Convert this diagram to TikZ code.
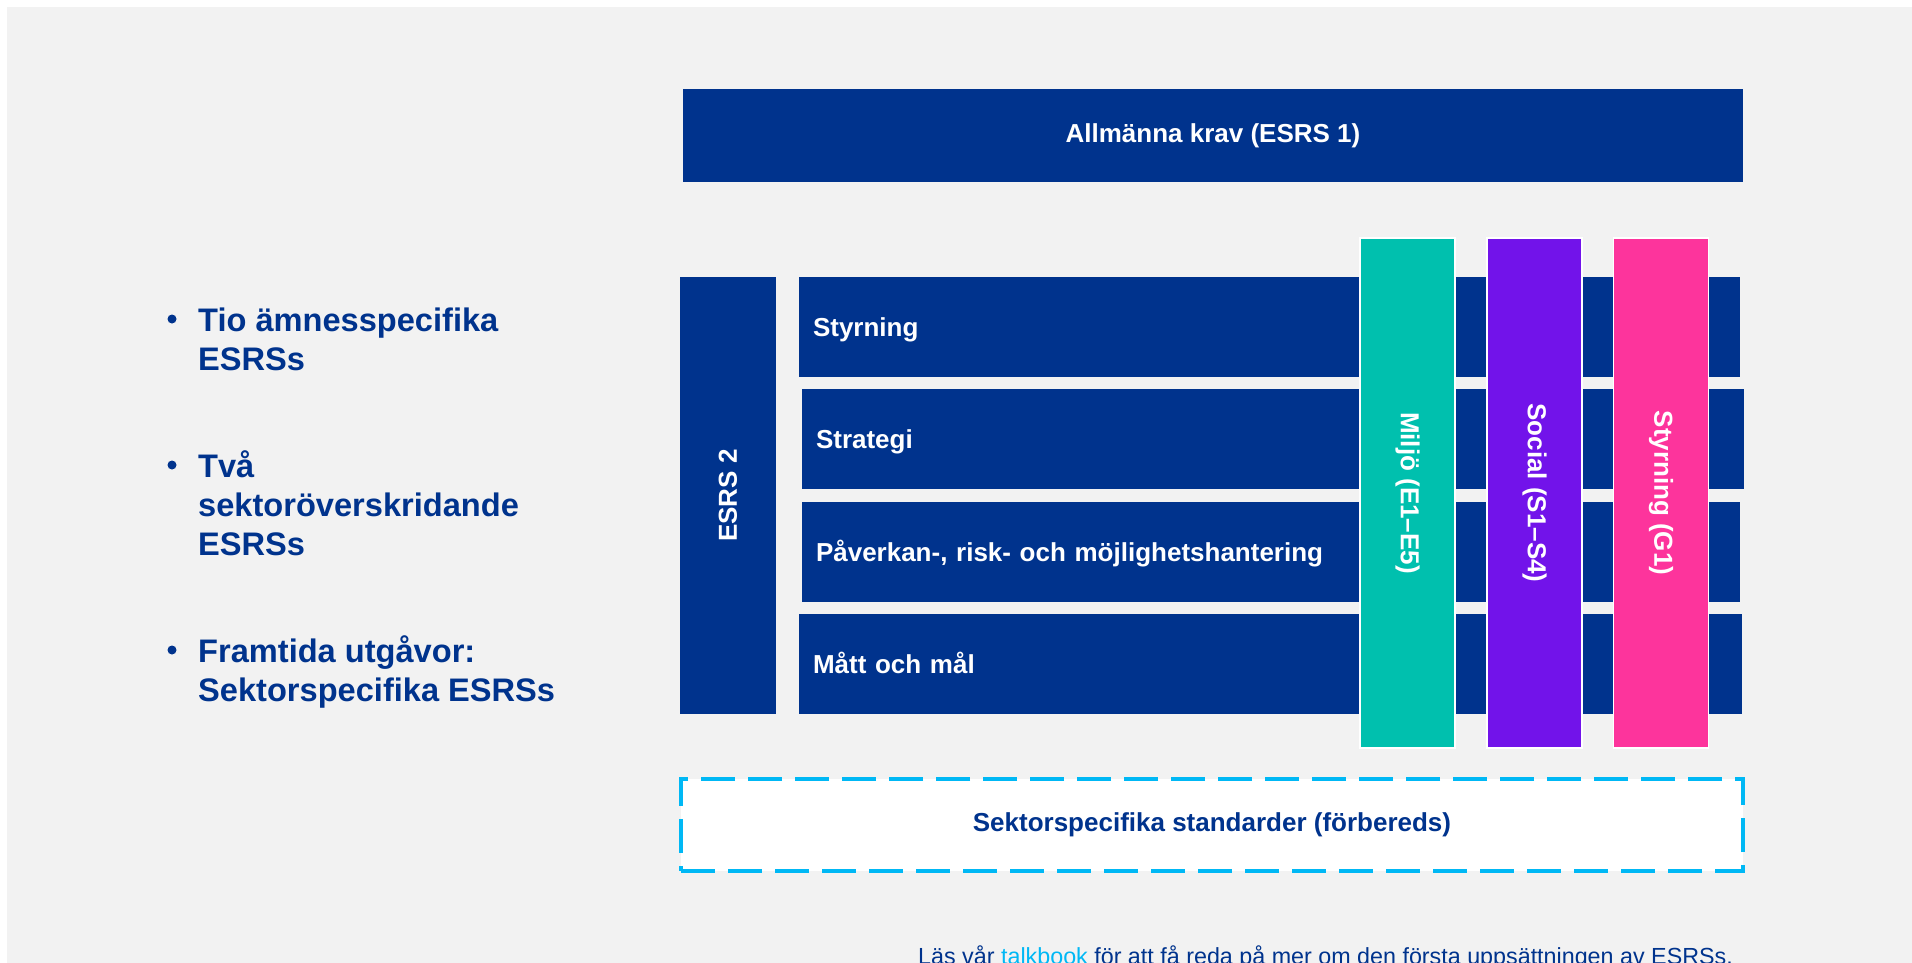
\documentclass[tikz,border=0pt]{standalone}
\usepackage{fontspec}
\setmainfont{Liberation Sans}
\usetikzlibrary{positioning}

\definecolor{esrsblue}{RGB}{0,51,141}
\definecolor{esrsteal}{RGB}{0,192,174}
\definecolor{esrspurple}{RGB}{114,19,234}
\definecolor{esrspink}{RGB}{253,52,156}
\definecolor{esrscyan}{RGB}{0,184,245}
\definecolor{esrsgray}{RGB}{242,242,242}

\begin{document}
\begin{tikzpicture}[x=1pt,y=-1pt,
  box/.style={fill=esrsblue, text=white, inner sep=0pt, outer sep=0pt,
    font=\fontsize{26}{31}\selectfont\bfseries},
  rowbox/.style={box, anchor=north west, minimum height=100pt, inner xsep=14pt, align=left,
    text height=19.4pt, text depth=0pt},
  colbox/.style={box, rotate=-90, draw=white, line width=1.5pt,
    minimum width=510pt, minimum height=95pt},
  bullettext/.style={text=esrsblue, inner sep=0pt, anchor=base west, align=left,
    font=\fontsize{32.6}{39}\selectfont\bfseries},
  dot/.style={circle, fill=esrsblue, inner sep=0pt, minimum size=9pt}]

  \useasboundingbox (0,0) rectangle (1912,963);
  \fill[white] (0,0) rectangle (1912,963);
  \fill[esrsgray] (7,7) rectangle (1912,963);

  % left list (base = last line)
  \node[bullettext] (t1) at (198,370) {Tio ämnesspecifika\\ESRSs};
  \node[bullettext] (t2) at (198,555) {Två\\sektoröverskridande\\ESRSs};
  \node[bullettext] (t3) at (198,701) {Framtida utgåvor:\\Sektorspecifika ESRSs};
  \node[dot] (d1) at (172,319) {};
  \node[dot] (d2) at (172,465) {};
  \node[dot] (d3) at (172,650) {};

  % general requirements
  \node[box, anchor=north west, minimum width=1060pt, minimum height=93pt] (esrs1) at (683,89) {Allmänna krav (ESRS 1)};
  \node[box, rotate=90, minimum width=437pt, minimum height=96pt] (esrs2) at (728,495.5) {ESRS 2};

  % rows
  \node[rowbox, text width=913pt] (gov) at (799,277) {Styrning};
  \node[rowbox, text width=914pt] (strat) at (802,389) {Strategi};
  \node[rowbox, text width=910pt] (iro) at (802,502) {Påverkan-, risk- och möjlighetshantering};
  \node[rowbox, text width=915pt] (mt) at (799,614) {Mått och mål};

  % topical columns
  \node[colbox, fill=esrsteal] (env) at (1407.5,493) {Miljö (E1–E5)};
  \node[colbox, fill=esrspurple] (soc) at (1534.5,493) {Social (S1–S4)};
  \node[colbox, fill=esrspink] (govc) at (1661,493) {Styrning (G1)};

  % sector standards
  \node[draw=esrscyan, fill=white, line width=4pt, dash pattern=on 34pt off 13pt,
    anchor=north west, inner sep=0pt, outer sep=0pt, minimum width=1062pt, minimum height=92pt,
    text=esrsblue, font=\fontsize{26}{31}\selectfont\bfseries] (sector) at (681,779) {Sektorspecifika standarder (förbereds)};

  \node[anchor=base west, inner sep=0pt, text=esrsblue, font=\fontsize{23.3}{28}\selectfont] (note) at (918,964)
    {Läs vår \textcolor{esrscyan}{talkbook} för att få reda på mer om den första uppsättningen av ESRSs.};

\end{tikzpicture}
\end{document}
